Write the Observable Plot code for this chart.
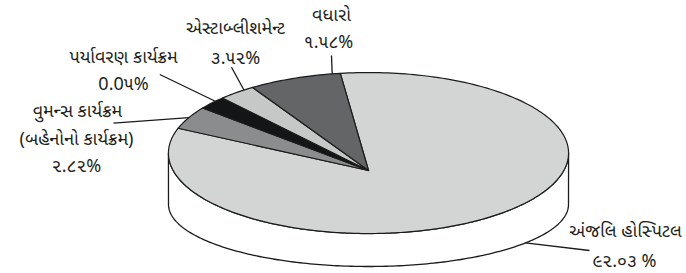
<!DOCTYPE html>
<html><head><meta charset="utf-8">
<script src="https://cdn.jsdelivr.net/npm/d3@7"></script>
<script src="https://cdn.jsdelivr.net/npm/@observablehq/plot@0.6"></script>
<style>
html,body{margin:0;padding:0;background:#fff;}
#chart svg{display:block;}
</style></head><body><div id="chart"></div>
<script>
// ---- data ----
const categories = ["અંજલિ હોસ્પિટલ", "વુમન્સ કાર્યક્રમ", "પર્યાવરણ કાર્યક્રમ", "એસ્ટાબ્લીશમેન્ટ", "વધારો"];
const nameLines = [["અંજલિ હોસ્પિટલ"], ["વુમન્સ કાર્યક્રમ", "(બહેનોનો કાર્યક્રમ)"], ["પર્યાવરણ કાર્યક્રમ"], ["એસ્ટાબ્લીશમેન્ટ"], ["વધારો"]];
const percentLabels = ["૯૨.૦૩ %", "૨.૮૨%", "0.0૫%", "૩.૫૨%", "૧.૫૮%"];
// slice sizes as drawn in the picture (% of the full circle)
const sliceShares = [85.0, 3.97, 2.19, 2.67, 6.17];
const sliceColors = ["#d3d4d4", "#8b8c8d", "#131516", "#c6c7c7", "#646567"];

// ---- layout ----
const top3d = {cx: 368, cy: 170, rx: 195.3, ry: 76.7, k: -0.217, start: -6.5};
const base = {cx: 368, cy: 204, rx: 200, ry: 62};
// leader: inner end on rim (angle deg, on top rim or base arc), outer end, label rows
const labelLayout = [
  {rim: "base", ang: 38.3, ox: 589, oy: 250, rows: [[625, 231], [624, 261]]},
  {rim: "top", ang: -53.1, ox: 113, oy: 122.7, rows: [[77, 111], [76, 139], [76, 166]]},
  {rim: "top", ang: -41, ox: 159.3, oy: 74, rows: [[123, 57], [123, 84]]},
  {rim: "top", ang: -31.3, ox: 231, oy: 66.7, rows: [[235, 28], [235, 58]]},
  {rim: "top", ang: -8.4, ox: 331, oy: 55, rows: [[331, 15], [328, 42]]}
];

const rad = d => d * Math.PI / 180;
function proj(deg, r = 1) {
  const u = r * Math.sin(rad(deg)), v = r * Math.cos(rad(deg));
  const w = 1 + top3d.k * v;
  return {x: top3d.cx + top3d.rx * u / w, y: top3d.cy - top3d.ry * v / w};
}
function baseArc(deg) {
  return {x: base.cx + base.rx * Math.cos(rad(deg)), y: base.cy + base.ry * Math.sin(rad(deg))};
}

// slices
const slices = [];
let a = top3d.start;
sliceShares.forEach((s, i) => {
  const span = s / 100 * 360;
  const pts = [proj(0, 0)];
  const n = Math.max(2, Math.ceil(span));
  for (let j = 0; j <= n; j++) pts.push(proj(a + span * j / n));
  pts.push(proj(0, 0));
  slices.push({pts, color: sliceColors[i]});
  a += span;
});

// side wall
const te = Math.acos(-top3d.k) * 180 / Math.PI;
const side = [];
for (let t = te; t <= 360 - te + 0.001; t += 1) side.push(proj(t));
side.push(proj(360 - te));
for (let p = 180; p >= 0; p -= 1) side.push(baseArc(p));
side.push(proj(te));

// leaders & text
const leaders = labelLayout.map(L => {
  const p = L.rim === "top" ? proj(L.ang) : baseArc(L.ang);
  return {x1: p.x, y1: p.y, x2: L.ox, y2: L.oy};
});
const textRows = [];
labelLayout.forEach((L, i) => {
  const lines = [...nameLines[i], percentLabels[i]];
  lines.forEach((t, j) => textRows.push({x: L.rows[j][0], y: L.rows[j][1], text: t}));
});

const font = "'Noto Sans Gujarati', 'Lohit Gujarati', 'Noto Sans', 'DejaVu Sans', sans-serif";
const chart = Plot.plot({
  width: 686, height: 273, margin: 0,
  style: {background: "#fff"},
  x: {domain: [0, 686], range: [0, 686], axis: null},
  y: {domain: [0, 273], range: [0, 273], axis: null},
  marks: [
    Plot.line(side, {x: "x", y: "y", fill: "#fff", stroke: "#1b1b1b", strokeWidth: 1.3}),
    ...slices.map(s => Plot.line(s.pts, {x: "x", y: "y", fill: s.color, stroke: "#1b1b1b", strokeWidth: 1.2, strokeLinejoin: "round"})),
    Plot.link(leaders, {x1: "x1", y1: "y1", x2: "x2", y2: "y2", stroke: "#1b1b1b", strokeWidth: 1.3}),
    Plot.text(textRows, {x: "x", y: "y", text: "text", fontSize: 18, fill: "#231f20", fontFamily: font})
  ]
});
document.getElementById("chart").append(chart);
</script></body></html>
